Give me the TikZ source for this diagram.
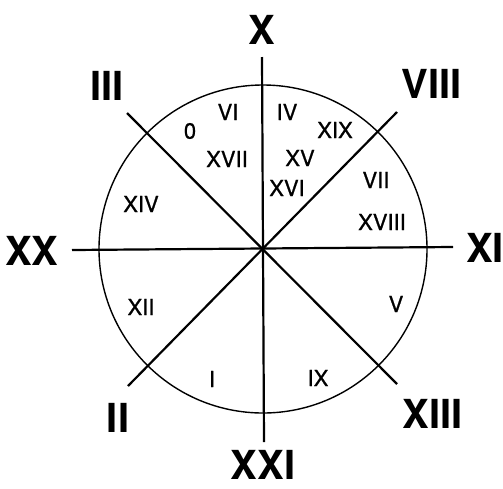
\documentclass[tikz,border=0pt]{standalone}
\usepackage{fontspec}
\setmainfont{TeX Gyre Heros}
\newfontfamily\medfont{TeX Gyre Heros}[FakeBold=0.8]
\begin{document}
\begin{tikzpicture}[x=1pt,y=-1pt,
  big/.style={font=\fontsize{40}{40}\selectfont\bfseries, inner sep=0pt},
  small/.style={font=\medfont\fontsize{22}{22}\selectfont, inner sep=0pt},
  ray/.style={line width=2.2pt},
  rim/.style={line width=1.4pt}]
\useasboundingbox (0,0) rectangle (503,488);
\coordinate (c) at (263,249);
\draw[rim] (c) circle (164);
\coordinate (n) at (262,57);
\coordinate (s) at (264,442);
\coordinate (w) at (72,250);
\coordinate (e) at (453,247);
\coordinate (nw) at (127,113);
\coordinate (se) at (397,384);
\coordinate (ne) at (397,112);
\coordinate (sw) at (128,386);
\draw[ray] (n) -- (s);
\draw[ray] (w) -- (e);
\draw[ray] (nw) -- (se);
\draw[ray] (ne) -- (sw);
% outer labels
\node[big] (lX) at (262,30) {X};
\node[big] (lIII) at (107,86) {III};
\node[big] (lVIII) at (432,84) {VIII};
\node[big] (lXX) at (32,251) {XX};
\node[big] (lXI) at (485,248) {XI};
\node[big] (lII) at (118,418) {II};
\node[big] (lXIII) at (433,414) {XIII};
\node[big] (lXXI) at (263,465) {XXI};
% inner labels
\node[small] (sVI) at (228,112) {VI};
\node[small] (sIV) at (287,112) {IV};
\node[small] (s0) at (190,131) {0};
\node[small] (sXIX) at (335,130) {XIX};
\node[small] (sXVII) at (227,159) {XVII};
\node[small] (sXV) at (300,158) {XV};
\node[small] (sXVI) at (287,188) {XVI};
\node[small] (sVII) at (376,180) {VII};
\node[small] (sXIV) at (141,204) {XIV};
\node[small] (sXVIII) at (382,222) {XVIII};
\node[small] (sXII) at (141,307) {XII};
\node[small] (sV) at (396,304) {V};
\node[small] (sI) at (212,379) {I};
\node[small] (sIX) at (318,378) {IX};
\end{tikzpicture}
\end{document}
